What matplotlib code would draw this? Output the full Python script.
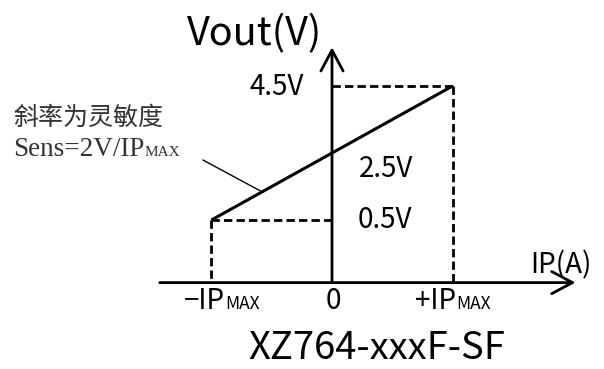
import matplotlib
matplotlib.use("Agg")
import matplotlib.pyplot as plt
from matplotlib.transforms import Affine2D
import numpy as np

# transfer curve, current in units of IPmax
ip = [-1, 1]
vout = [0.5, 4.5]
v_mid = 2.5
v_labels = ["0.5V", "2.5V", "4.5V"]
model = "XZ764-xxxF-SF"

SANS = ["Noto Sans CJK SC", "DejaVu Sans"]
SERIF = ["Liberation Serif", "DejaVu Serif"]

# layout (data units)
XLIM = (-2.755, 2.257)
YLIM = (-3.95, 7.07)
AX_Y = -1.37            # where the current axis crosses
AX_X0, AX_X1 = -1.43, 2.02
AX_YTOP = 5.66
TICK_BASE = -2.17

fig = plt.figure(figsize=(6.04, 3.69), dpi=100)
ax = fig.add_axes([0, 0, 1, 1])
ax.set_xlim(*XLIM)
ax.set_ylim(*YLIM)
ax.axis("off")

lw_axis = 2.0
arrow = dict(arrowstyle="->,head_length=0.75,head_width=0.4", lw=lw_axis,
             color="black", shrinkA=0, shrinkB=0, mutation_scale=20)
ax.annotate("", xy=(AX_X1, AX_Y), xytext=(AX_X0, AX_Y), arrowprops=arrow)
ax.annotate("", xy=(0, AX_YTOP), xytext=(0, AX_Y), arrowprops=arrow)

# dashed guides
dash = dict(color="black", lw=2.0, dashes=(3, 1.5))
ax.plot([0, ip[1]], [vout[1], vout[1]], **dash)
ax.plot([ip[1], ip[1]], [vout[1], AX_Y], **dash)
ax.plot([ip[0], 0], [vout[0], vout[0]], **dash)
ax.plot([ip[0], ip[0]], [vout[0], AX_Y], **dash)

# output line
ax.plot(ip, vout, color="black", lw=2.2, solid_capstyle="butt")

# leader to the slope note
lead_x = -0.58
ax.plot([-1.07, lead_x], [2.29, np.interp(lead_x, ip, vout)], color="black", lw=1.0)

ax.text(-0.64, 5.72, "Vout(V)", fontsize=28.5, family=SANS, ha="center", va="baseline")
ax.text(1.90, -1.08, "IP(A)", fontsize=20, family=SANS, ha="center", va="baseline")

ax.text(-0.456, vout[1] - 0.27, v_labels[2], fontsize=20, family=SANS, ha="center", va="baseline")
ax.text(0.448, v_mid - 0.72, v_labels[1], fontsize=20, family=SANS, ha="center", va="baseline")
ax.text(0.44, vout[0] - 0.24, v_labels[0], fontsize=20, family=SANS, ha="center", va="baseline")

renderer = fig.canvas.get_renderer()


def with_max(x, y, head, size, small, family, ha="center", color="black"):
    t1 = ax.text(x, y, head, fontsize=size, family=family, ha="left", va="baseline", color=color)
    t2 = ax.text(x, y, "MAX", fontsize=small, family=family, ha="left", va="baseline", color=color)
    w1 = t1.get_window_extent(renderer).width
    w2 = t2.get_window_extent(renderer).width
    start = -(w1 + w2) / 2 if ha == "center" else 0
    t1.set_transform(ax.transData + Affine2D().translate(start, 0))
    t2.set_transform(ax.transData + Affine2D().translate(start + w1, 0))


with_max(-0.913, TICK_BASE, "\u2212IP", 20, 12.5, SANS)
with_max(1.0, TICK_BASE, "+IP", 20, 12.5, SANS)
ax.text(0.008, TICK_BASE, "0", fontsize=20, family=SANS, ha="center", va="baseline")

ax.text(-2.647, 3.34, "斜率为灵敏度", fontsize=18, family=SANS, ha="left", va="baseline",
        color="#333333")
with_max(-2.647, 2.41, "Sens=2V/IP", 19.5, 11, SERIF, ha="left", color="#333333")

ax.text(0.373, YLIM[0] + 0.02, model, fontsize=27.5, family=SANS, ha="center", va="bottom")

fig.savefig("out.png", dpi=100)
